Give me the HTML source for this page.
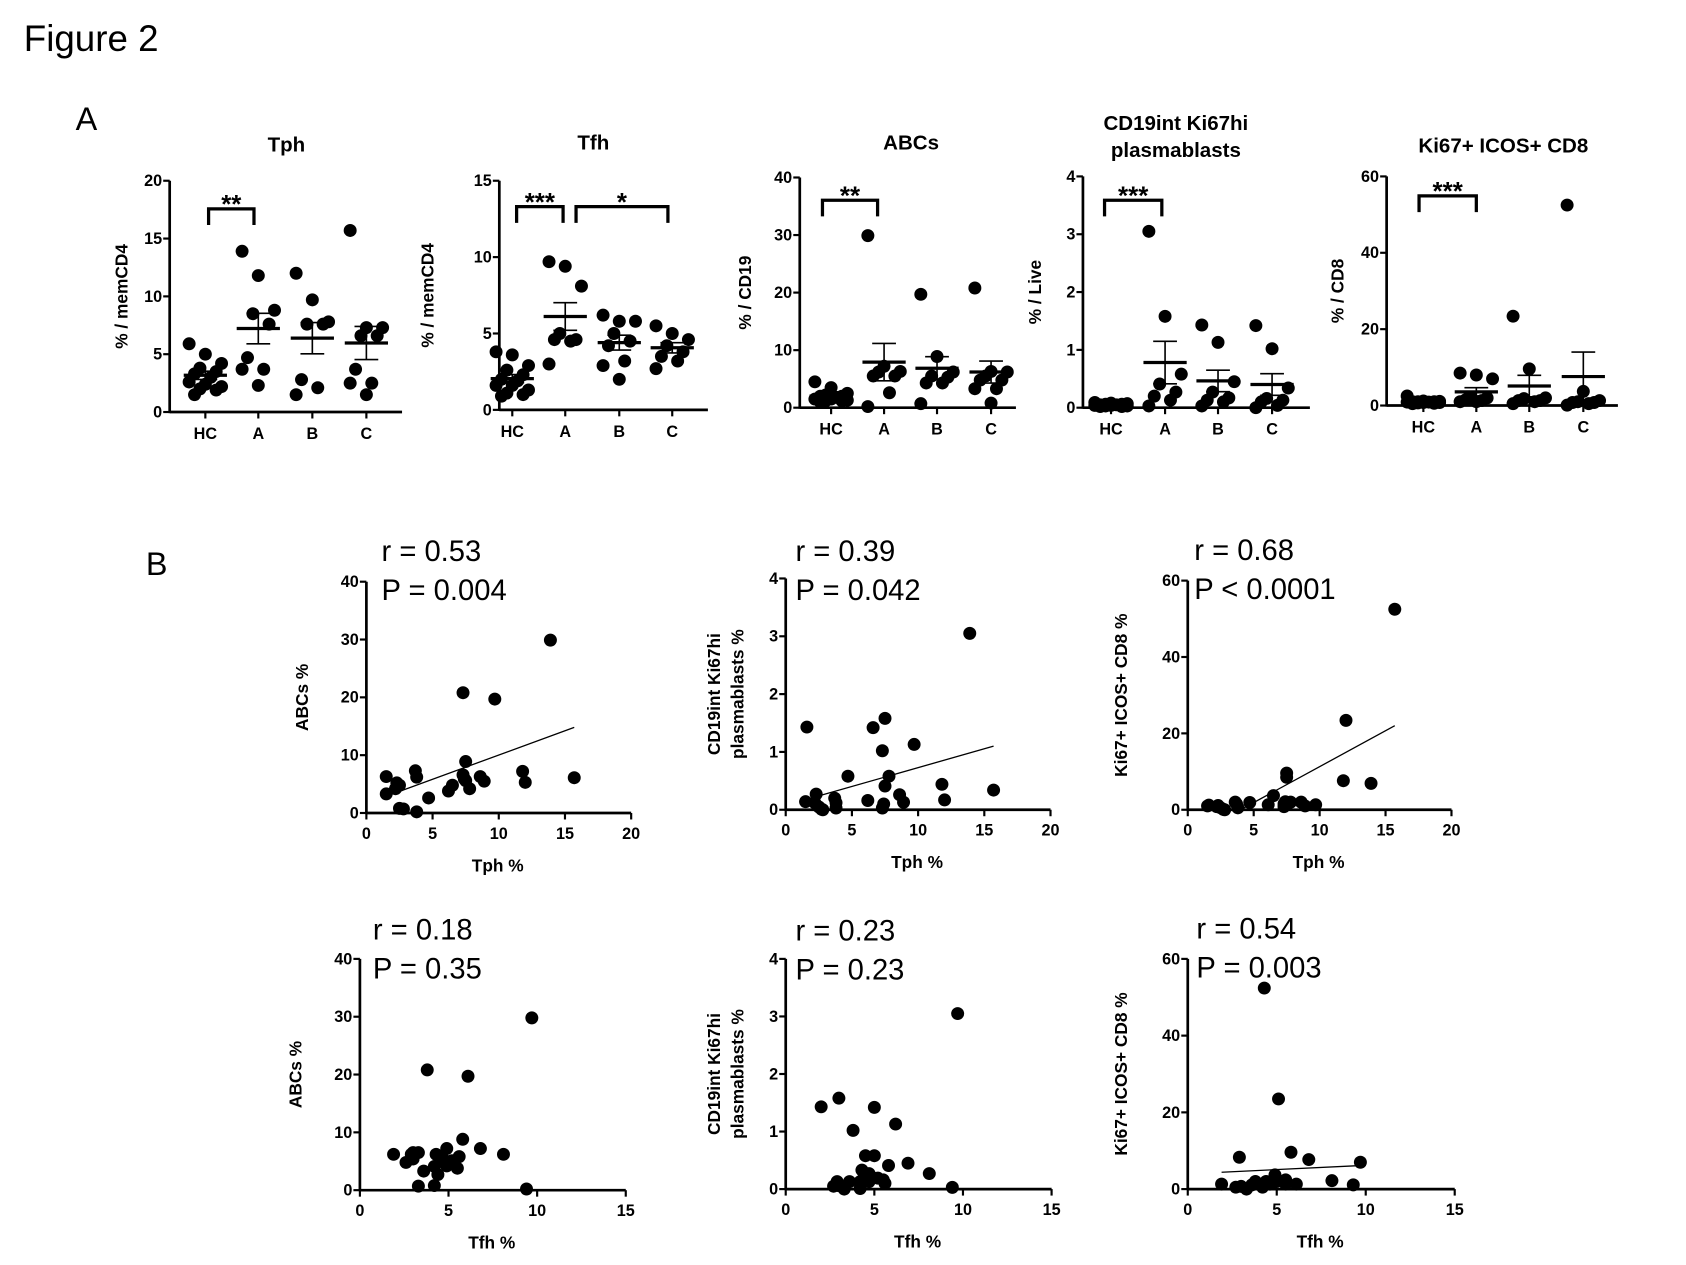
<!DOCTYPE html>
<html><head><meta charset="utf-8"><style>
html,body{margin:0;padding:0;background:#fff;}
svg{display:block;}
text{font-family:"Liberation Sans",Arial,sans-serif;fill:#000;}
.tk{font-size:15px;font-weight:bold;}
.ttl{font-size:19px;font-weight:bold;}
.lab{font-size:16px;font-weight:bold;}
.ann{font-size:27px;}
</style></head><body>
<svg id="fig" width="1686" height="1265" viewBox="0 0 1560 1170" xmlns="http://www.w3.org/2000/svg">
<text x="22" y="47" style="font-size:34px">Figure 2</text>
<text x="70" y="120" style="font-size:30px">A</text>
<text x="135" y="532" style="font-size:30px">B</text>
</svg>
<script>
const groupCats = ['HC','A','B','C'];
const tphGroups = [[5.9,5.0,4.2,3.8,3.5,3.3,3.0,2.6,2.4,2.2,2.0,1.9,1.5],[13.9,11.8,8.8,8.5,7.6,4.7,3.7,3.7,2.3],[12.0,9.7,7.8,7.6,7.6,2.8,2.1,1.5],[15.7,7.3,7.3,6.6,6.6,3.7,2.5,2.5,1.5]];
const tfhGroups = [[3.8,3.6,2.9,2.6,2.3,2.0,1.9,1.6,1.6,1.3,1.1,1.0,0.9],[9.7,9.4,8.1,5.0,4.6,4.6,4.5,3.0],[6.2,5.8,5.8,5.0,4.5,4.2,3.2,2.9,2.0],[5.5,5.0,4.6,4.2,3.8,3.5,3.2,2.7]];
const abcGroups = [[4.5,3.5,2.5,2.2,2.0,2.0,1.8,1.5,1.5,1.3,1.2,1.2,1.0],[29.9,7.2,6.3,6.2,5.5,5.5,2.6,0.2],[19.7,8.9,6.2,5.5,5.3,4.3,4.3,0.7],[20.8,6.3,6.2,5.5,4.8,4.8,3.3,3.3,0.8]];
const pbGroups = [[0.09,0.08,0.07,0.06,0.06,0.05,0.05,0.04,0.04,0.03,0.03,0.02,0.02],[3.05,1.58,0.58,0.41,0.27,0.2,0.13,0.03],[1.43,1.13,0.45,0.27,0.17,0.13,0.1,0.03],[1.42,1.02,0.34,0.16,0.13,0.1,0.04,0.0]];
const cd8Groups = [[2.5,1.2,1.1,1.0,1.0,1.0,0.9,0.9,0.8,0.8,0.7,0.6,0.5],[8.5,8.0,7.0,2.0,2.0,1.5,1.3,1.0,1.0],[23.4,9.6,2.0,1.8,1.3,1.3,1.0,0.5],[52.5,3.7,1.3,1.0,0.8,0.8,0.5,0.1]];

const b1X = [1.5,1.5,2.2,2.3,2.5,2.5,2.8,3.7,3.8,3.8,4.7,6.2,6.5,7.3,7.3,7.4,7.5,7.5,7.8,8.6,8.9,9.7,11.8,12.0,13.9,15.7];
const b1Y = [6.3,3.3,4.2,5.2,4.8,0.8,0.7,7.3,6.2,0.2,2.6,3.8,4.8,20.8,6.6,5.9,8.9,5.6,4.2,6.3,5.5,19.7,7.2,5.3,29.9,6.1];
const b1Fit = [[1.5,2.9],[15.7,14.8]];
const b2X = [1.5,1.6,2.2,2.3,2.5,2.7,2.8,3.7,3.8,3.8,4.7,6.2,6.6,7.3,7.3,7.4,7.5,7.5,7.8,8.6,8.9,9.7,11.8,12.0,13.9,15.7];
const b2Y = [0.14,1.43,0.12,0.27,0.05,0.01,0.0,0.2,0.12,0.03,0.58,0.16,1.42,1.02,0.03,0.1,1.58,0.41,0.58,0.26,0.13,1.13,0.44,0.17,3.05,0.34];
const b2Fit = [[2.2,0.22],[15.7,1.1]];
const b3X = [1.5,1.6,2.2,2.3,2.5,2.7,2.8,3.6,3.7,3.8,4.7,6.1,6.5,7.3,7.3,7.4,7.5,7.5,7.8,8.6,8.9,9.7,11.8,12.0,13.9,15.7];
const b3Y = [1.0,1.2,0.8,1.1,0.5,0.1,0.0,2.0,1.5,0.5,1.9,1.3,3.7,0.8,1.5,2.1,9.6,8.5,2.0,2.0,1.0,1.3,7.6,23.4,6.9,52.5];
const b3Fit = [[4.0,0.0],[15.7,22.0]];
const b4X = [1.9,2.6,2.9,3.0,3.0,3.3,3.3,3.6,3.8,4.2,4.2,4.3,4.4,4.7,4.9,4.9,5.2,5.5,5.6,5.8,6.1,6.8,8.1,9.4,9.7];
const b4Y = [6.2,4.8,6.2,6.5,5.4,6.5,0.7,3.3,20.8,0.8,4.1,6.2,2.7,5.4,7.2,4.2,5.1,3.8,5.8,8.8,19.7,7.2,6.2,0.2,29.8];
const b5X = [2.0,3.0,3.8,5.0,6.2,4.5,5.0,5.8,6.9,8.1,9.7,9.4,4.3,4.7,4.9,5.2,5.5,5.6,4.7,4.2,4.2,3.6,3.3,2.9,2.7,3.0];
const b5Y = [1.43,1.58,1.02,1.42,1.13,0.58,0.58,0.41,0.45,0.27,3.05,0.03,0.33,0.27,0.2,0.19,0.16,0.1,0.13,0.13,0.01,0.13,0.0,0.13,0.05,0.06];
const b6X = [1.9,2.7,2.9,3.0,3.3,3.6,3.8,4.2,4.3,4.4,4.6,4.8,4.9,5.0,5.1,5.5,5.5,5.8,6.1,6.8,8.1,9.3,9.7];
const b6Y = [1.3,0.5,8.3,0.7,0.0,1.1,2.0,0.5,52.4,2.0,1.3,1.6,3.7,2.0,23.5,2.4,1.3,9.6,1.3,7.7,2.2,1.1,7.0];
const b6Fit = [[1.9,4.4],[10.0,6.2]];

const NS='http://www.w3.org/2000/svg';
const svg=document.getElementById('fig');
function mk(tag,attrs,parent){const e=document.createElementNS(NS,tag);for(const k in attrs)e.setAttribute(k,attrs[k]);(parent||svg).appendChild(e);return e;}
function txt(s,x,y,cls,anchor,parent,extra){const t=mk('text',Object.assign({x:x,y:y,class:cls,'text-anchor':anchor||'start'},extra||{}),parent);t.textContent=s;return t;}

function groupPanel(id,cfg,data){
  const g=mk('g',{});
  
  
  const ys=v=>cfg.y0-(v/cfg.max)*(cfg.y0-cfg.yTop);
  const ya=mk('line',{x1:cfg.ax,y1:cfg.yTop,x2:cfg.ax,y2:cfg.y0+1,stroke:'#000','stroke-width':2.5},g);
  
  
  const xa=mk('line',{x1:cfg.ax,y1:cfg.y0,x2:cfg.xEnd,y2:cfg.y0,stroke:'#000','stroke-width':2.5},g);
  
  
  for(let v=0;v<=cfg.max+1e-9;v+=cfg.step){
    const y=ys(v);
    mk('line',{x1:cfg.ax-6,y1:y,x2:cfg.ax,y2:y,stroke:'#000','stroke-width':2},g);
    const t=txt(String(v),cfg.ax-7,y+5,'tk','end',g);
    
    
  }
  groupCats.forEach((c,i)=>{
    const x=cfg.cats[i];
    mk('line',{x1:x,y1:cfg.y0,x2:x,y2:cfg.y0+6,stroke:'#000','stroke-width':2},g);
    const t=txt(c,x,cfg.y0+25,'tk','middle',g);
    
    
    const vals=data[i];
    const n=vals.length;
    const mean=vals.reduce((a,b)=>a+b,0)/n;
    const sd=Math.sqrt(vals.reduce((a,b)=>a+(b-mean)*(b-mean),0)/(n-1));
    const sem=sd/Math.sqrt(n);
    vals.forEach((v,j)=>{
      const off=((j*3)%7-3)*5;
      const d=mk('circle',{cx:x+off,cy:ys(v),r:6,fill:'#000'},g);
      
      
    });
    const mLine=mk('line',{x1:x-20,y1:ys(mean),x2:x+20,y2:ys(mean),stroke:'#000','stroke-width':3},g);
    
    
    const eb=mk('path',{d:`M${x-11},${ys(mean+sem)}H${x+11}M${x},${ys(mean+sem)}V${ys(mean-sem)}M${x-11},${ys(mean-sem)}H${x+11}`,stroke:'#000','stroke-width':1.5,fill:'none'},g);
    
    
  });
  cfg.title.forEach((s,k)=>{
    const t=txt(s,cfg.tx,cfg.ty+k*25,'ttl','middle',g);
    
    
  });
  const yl=txt(cfg.ylab,cfg.ylx,(cfg.y0+cfg.yTop)/2,'lab','middle',g,{transform:`rotate(-90 ${cfg.ylx} ${(cfg.y0+cfg.yTop)/2})`});
  
  
  cfg.brackets.forEach(b=>{
    const p=mk('path',{d:`M${b[0]},${b[2]+15}V${b[2]}H${b[1]}V${b[2]+15}`,stroke:'#000','stroke-width':3,fill:'none'},g);
    
    
    const t=txt(b[3],(b[0]+b[1])/2,b[2]+4,'ttl','middle',g,{style:'font-size:24px'});
    
    
  });
}

groupPanel('tph',{ax:157,xEnd:372,y0:381,yTop:167,max:20,step:5,cats:[190,239,289,339],title:['Tph'],tx:265,ty:140,ylab:'% / memCD4',ylx:118,brackets:[[193,235,193,'**']]},tphGroups);
groupPanel('tfh',{ax:462,xEnd:655,y0:379,yTop:167,max:15,step:5,cats:[474,523,573,622],title:['Tfh'],tx:549,ty:138,ylab:'% / memCD4',ylx:401,brackets:[[478,521,191,'***'],[533,618,191,'*']]},tfhGroups);
groupPanel('abcs',{ax:740,xEnd:940,y0:377,yTop:164,max:40,step:10,cats:[769,818,867,917],title:['ABCs'],tx:843,ty:138,ylab:'% / CD19',ylx:695,brackets:[[761,812,185,'**']]},abcGroups);
groupPanel('plasmablasts',{ax:1002,xEnd:1212,y0:377,yTop:163,max:4,step:1,cats:[1028,1078,1127,1177],title:['CD19int Ki67hi','plasmablasts'],tx:1088,ty:120,ylab:'% / Live',ylx:963,brackets:[[1022,1075,185,'***']]},pbGroups);
groupPanel('cd8',{ax:1283,xEnd:1497,y0:375,yTop:163,max:60,step:20,cats:[1317,1366,1415,1465],title:['Ki67+ ICOS+ CD8'],tx:1391,ty:141,ylab:'% /  CD8',ylx:1243,brackets:[[1313,1366,181,'***']]},cd8Groups);

function scatter(id,cfg,xs,ys_,fit){
  const g=mk('g',{});
  
  
  const sx=v=>cfg.ax+(v/cfg.xmax)*(cfg.xEnd-cfg.ax);
  const sy=v=>cfg.y0-(v/cfg.ymax)*(cfg.y0-cfg.yTop);
  const ya=mk('line',{x1:cfg.ax,y1:cfg.yTop,x2:cfg.ax,y2:cfg.y0+1,stroke:'#000','stroke-width':2.5},g);
  
  
  const xa=mk('line',{x1:cfg.ax,y1:cfg.y0,x2:cfg.xEnd,y2:cfg.y0,stroke:'#000','stroke-width':2.5},g);
  
  
  for(let v=0;v<=cfg.ymax+1e-9;v+=cfg.ystep){
    const y=sy(v);
    mk('line',{x1:cfg.ax-6,y1:y,x2:cfg.ax,y2:y,stroke:'#000','stroke-width':2},g);
    const t=txt(String(v),cfg.ax-7,y+5,'tk','end',g);
    
    
  }
  for(let v=0;v<=cfg.xmax+1e-9;v+=5){
    const x=sx(v);
    mk('line',{x1:x,y1:cfg.y0,x2:x,y2:cfg.y0+6,stroke:'#000','stroke-width':2},g);
    const t=txt(String(v),x,cfg.y0+24,'tk','middle',g);
    
    
  }
  if(fit){
    const l=mk('line',{x1:sx(fit[0][0]),y1:sy(fit[0][1]),x2:sx(fit[1][0]),y2:sy(fit[1][1]),stroke:'#000','stroke-width':1.2},g);
    
    
  }
  xs.forEach((v,i)=>{
    const d=mk('circle',{cx:sx(v),cy:sy(ys_[i]),r:6,fill:'#000'},g);
    
    
  });
  const r=txt(cfg.r,cfg.annX,cfg.annY,'ann','start',g);
  
  
  const p=txt(cfg.p,cfg.annX,cfg.annY+36,'ann','start',g);
  
  
  const xl=txt(cfg.xlab,(cfg.ax+sx(cfg.xmax))/2-1,cfg.y0+54,'lab','middle',g);
  
  
  const cy=(cfg.y0+cfg.yTop)/2;
  const n=cfg.ylab.length;
  cfg.ylab.forEach((s,k)=>{
    const x=cfg.ylx+(k-(n-1))*22;
    const t=txt(s,x,cy,'lab','middle',g,{transform:`rotate(-90 ${x} ${cy})`});
    
    
  });
}
scatter('tph-abcs',{ax:339,xEnd:584,xmax:20,y0:752,yTop:538,ymax:40,ystep:10,r:'r = 0.53',p:'P = 0.004',annX:353,annY:519,xlab:'Tph %',ylab:['ABCs %'],ylx:285},b1X,b1Y,b1Fit);
scatter('tph-plasmablasts',{ax:727,xEnd:972,xmax:20,y0:749,yTop:535,ymax:4,ystep:1,r:'r = 0.39',p:'P = 0.042',annX:736,annY:519,xlab:'Tph %',ylab:['CD19int Ki67hi','plasmablasts %'],ylx:688},b2X,b2Y,b2Fit);
scatter('tph-cd8',{ax:1099,xEnd:1343,xmax:20,y0:749,yTop:537,ymax:60,ystep:20,r:'r = 0.68',p:'P < 0.0001',annX:1105,annY:518,xlab:'Tph %',ylab:['Ki67+ ICOS+ CD8 %'],ylx:1043},b3X,b3Y,b3Fit);
scatter('tfh-abcs',{ax:333,xEnd:579,xmax:15,y0:1101,yTop:887,ymax:40,ystep:10,r:'r = 0.18',p:'P = 0.35',annX:345,annY:869,xlab:'Tfh %',ylab:['ABCs %'],ylx:279},b4X,b4Y,null);
scatter('tfh-plasmablasts',{ax:727,xEnd:973,xmax:15,y0:1100,yTop:887,ymax:4,ystep:1,r:'r = 0.23',p:'P = 0.23',annX:736,annY:870,xlab:'Tfh %',ylab:['CD19int Ki67hi','plasmablasts %'],ylx:688},b5X,b5Y,null);
scatter('tfh-cd8',{ax:1099,xEnd:1346,xmax:15,y0:1100,yTop:887,ymax:60,ystep:20,r:'r = 0.54',p:'P = 0.003',annX:1107,annY:868,xlab:'Tfh %',ylab:['Ki67+ ICOS+ CD8 %'],ylx:1043},b6X,b6Y,b6Fit);
</script>
</body></html>
